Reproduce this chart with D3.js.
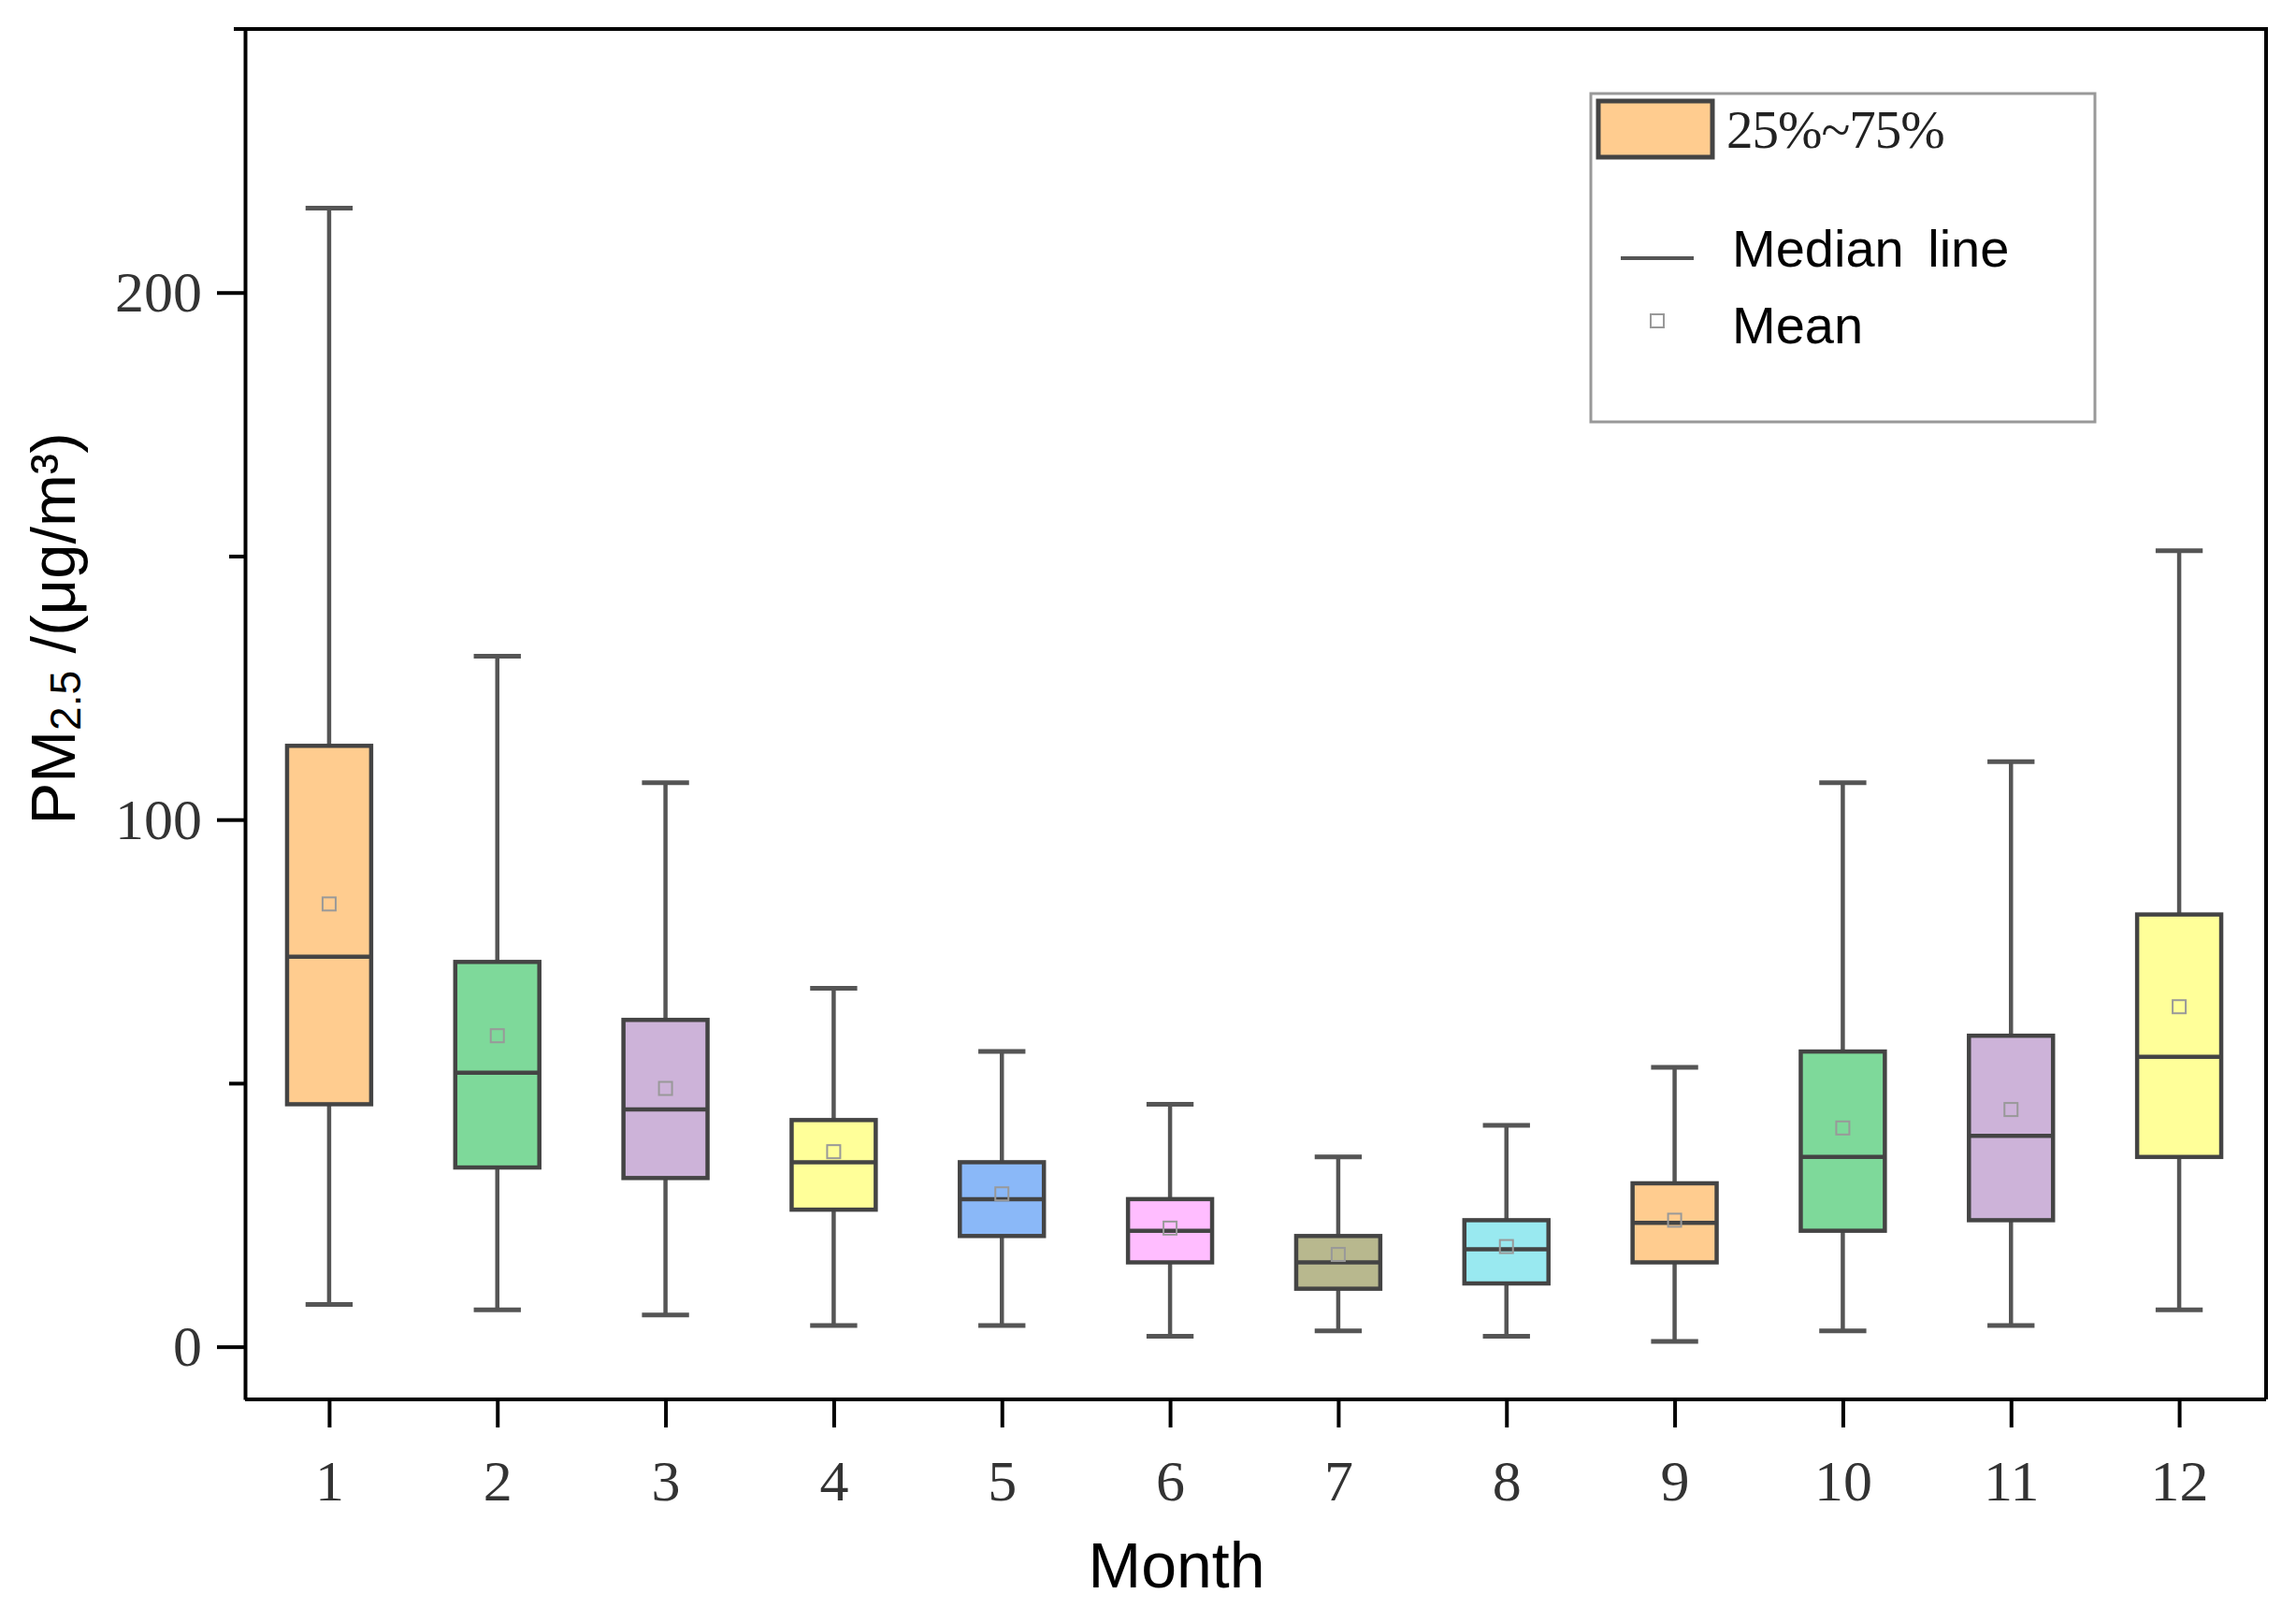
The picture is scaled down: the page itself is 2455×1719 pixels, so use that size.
<!DOCTYPE html>
<html>
<head>
<meta charset="utf-8">
<script src="https://cdn.jsdelivr.net/npm/d3@7"></script>
<style>
  body { margin: 0; background: #fff; }
  svg { display: block; }
</style>
</head>
<body>
<script>
// monthly PM2.5 box statistics
const months = [1, 2, 3, 4, 5, 6, 7, 8, 9, 10, 11, 12]
const whiskerHigh = [216, 131, 107, 68, 56, 46, 36, 42, 53, 107, 111, 151]
const q3 = [114, 73, 62, 43, 35, 28, 21, 24, 31, 56, 59, 82]
const median = [74, 52, 45, 35, 28, 22, 16, 18.5, 23.5, 36, 40, 55]
const mean = [84, 59, 49, 37, 29, 22.5, 17.5, 19, 24, 41.5, 45, 64.5]
const q1 = [46, 34, 32, 26, 21, 16, 11, 12, 16, 22, 24, 36]
const whiskerLow = [8, 7, 6, 4, 4, 2, 3, 2, 1, 3, 4, 7]
const boxColors = ["#FFCC8F", "#7ED99A", "#CDB3D9", "#FFFF99", "#8AB8F8", "#FFBDFF",
                   "#B8B88E", "#99E9F0", "#FFCC8F", "#7ED99A", "#CDB3D9", "#FFFF99"]

const yMajorTicks = [0, 100, 200]
const yMinorTicks = [50, 150]
const legendLabels = ["25%~75%", "Median line", "Mean"]

const width = 2455
const height = 1719
const plot = { left: 262, right: 2423, top: 31, bottom: 1496 }

const svg = d3.select("body").append("svg")
  .attr("width", width)
  .attr("height", height)

svg.append("rect").attr("width", width).attr("height", height).attr("fill", "#fff")

const x = d3.scaleLinear().domain([0.5, 12.5]).range([plot.left, plot.right - 3])
const y = d3.scaleLinear().domain([-10, 250]).range([plot.bottom, plot.top])

const boxHalf = 0.25
const capHalf = 0.14

const stats = months.map((m, i) => ({
  m, hi: whiskerHigh[i], q3: q3[i], med: median[i], mean: mean[i], q1: q1[i], lo: whiskerLow[i], color: boxColors[i]
}))

const boxes = svg.append("g").attr("class", "boxes")
  .selectAll("g")
  .data(stats)
  .enter()
  .append("g")

// whiskers
boxes.append("line")
  .attr("x1", d => x(d.m)).attr("x2", d => x(d.m))
  .attr("y1", d => y(d.q3)).attr("y2", d => y(d.hi))
  .attr("stroke", "#555").attr("stroke-width", 4.5)
boxes.append("line")
  .attr("x1", d => x(d.m)).attr("x2", d => x(d.m))
  .attr("y1", d => y(d.q1)).attr("y2", d => y(d.lo))
  .attr("stroke", "#555").attr("stroke-width", 4.5)
// caps
boxes.append("line")
  .attr("x1", d => x(d.m - capHalf)).attr("x2", d => x(d.m + capHalf))
  .attr("y1", d => y(d.hi)).attr("y2", d => y(d.hi))
  .attr("stroke", "#555").attr("stroke-width", 5)
boxes.append("line")
  .attr("x1", d => x(d.m - capHalf)).attr("x2", d => x(d.m + capHalf))
  .attr("y1", d => y(d.lo)).attr("y2", d => y(d.lo))
  .attr("stroke", "#555").attr("stroke-width", 5)
// box
boxes.append("rect")
  .attr("x", d => x(d.m - boxHalf))
  .attr("width", d => x(d.m + boxHalf) - x(d.m - boxHalf))
  .attr("y", d => y(d.q3))
  .attr("height", d => y(d.q1) - y(d.q3))
  .attr("fill", d => d.color)
  .attr("stroke", "#444").attr("stroke-width", 4.5)
// median
boxes.append("line")
  .attr("x1", d => x(d.m - boxHalf)).attr("x2", d => x(d.m + boxHalf))
  .attr("y1", d => y(d.med)).attr("y2", d => y(d.med))
  .attr("stroke", "#444").attr("stroke-width", 4.5)
// mean
boxes.append("rect")
  .attr("x", d => x(d.m) - 7).attr("y", d => y(d.mean) - 7)
  .attr("width", 14).attr("height", 14)
  .attr("fill", "none").attr("stroke", "#999").attr("stroke-width", 2)

// axes
svg.append("g")
  .attr("transform", `translate(${plot.left},0)`)
  .call(d3.axisLeft(y).tickValues(yMajorTicks).tickSize(30).tickSizeOuter(0).tickPadding(16))
const yMinor = svg.append("g")
  .attr("transform", `translate(${plot.left},0)`)
  .call(d3.axisLeft(y).tickValues(yMinorTicks).tickSize(17).tickFormat(""))
yMinor.select(".domain").remove()

const xAxis = svg.append("g")
  .attr("transform", `translate(0,${plot.bottom})`)
  .call(d3.axisBottom(x).tickValues(months).tickSize(30).tickSizeOuter(0).tickPadding(34))
xAxis.select(".domain").attr("d", `M${plot.left},0H${plot.right}`)

svg.selectAll(".domain, .tick line").attr("stroke", "#000").attr("stroke-width", 4)
svg.selectAll(".tick text")
  .attr("font-family", "'Liberation Serif', 'Times New Roman', serif")
  .attr("font-size", 62)
  .attr("fill", "#333")

// top and right frame
svg.append("path")
  .attr("d", `M${plot.left - 12},${plot.top}H${plot.right}V${plot.bottom}`)
  .attr("fill", "none").attr("stroke", "#000").attr("stroke-width", 4)

// axis titles
svg.append("text")
  .attr("x", 1258).attr("y", 1697)
  .attr("text-anchor", "middle")
  .attr("font-family", "'Liberation Sans', Arial, sans-serif")
  .attr("font-size", 68)
  .text("Month")

const yTitle = svg.append("text")
  .attr("transform", "translate(80,672) rotate(-90)")
  .attr("text-anchor", "middle")
  .attr("font-family", "'Liberation Sans', Arial, sans-serif")
  .attr("font-size", 67)
yTitle.append("tspan").text("PM")
yTitle.append("tspan").attr("font-size", 46).attr("dy", 6).text("2.5")
yTitle.append("tspan").attr("dy", -6).text(" /(μg/m³)")

// legend
const legend = svg.append("g").attr("class", "legend")
legend.append("rect")
  .attr("x", 1701).attr("y", 100).attr("width", 539).attr("height", 351)
  .attr("fill", "#fff").attr("stroke", "#999").attr("stroke-width", 3)
legend.append("rect")
  .attr("x", 1709).attr("y", 108).attr("width", 122).attr("height", 60)
  .attr("fill", boxColors[0]).attr("stroke", "#444").attr("stroke-width", 5)
legend.append("text")
  .attr("x", 1846).attr("y", 158)
  .attr("font-family", "'Liberation Serif', 'Times New Roman', serif")
  .attr("font-size", 57).attr("fill", "#222").attr("letter-spacing", -1)
  .text(legendLabels[0])
legend.append("line")
  .attr("x1", 1733).attr("x2", 1811).attr("y1", 276).attr("y2", 276)
  .attr("stroke", "#555").attr("stroke-width", 4)
legend.append("text")
  .attr("x", 1852).attr("y", 285)
  .attr("font-family", "'Liberation Sans', Arial, sans-serif")
  .attr("font-size", 56).attr("word-spacing", 10)
  .text(legendLabels[1])
legend.append("rect")
  .attr("x", 1765).attr("y", 336).attr("width", 14).attr("height", 14)
  .attr("fill", "none").attr("stroke", "#999").attr("stroke-width", 2)
legend.append("text")
  .attr("x", 1852).attr("y", 367)
  .attr("font-family", "'Liberation Sans', Arial, sans-serif")
  .attr("font-size", 56)
  .text(legendLabels[2])
</script>
</body>
</html>
